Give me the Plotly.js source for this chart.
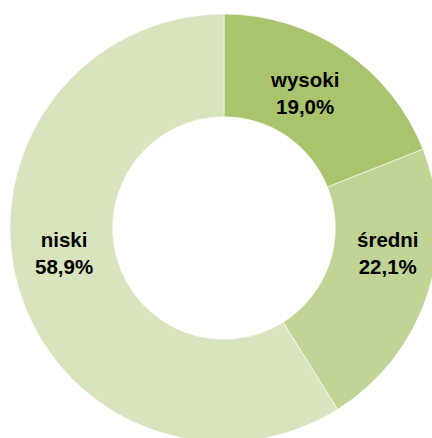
<!DOCTYPE html>
<html>
<head>
<meta charset="utf-8">
<script src="https://cdn.plot.ly/plotly-3.0.1.min.js"></script>
<style>
html,body{margin:0;padding:0;overflow:hidden;background:#fff;width:432px;height:438px;}
#chart{width:448px;height:442px;}
</style>
</head>
<body>
<div id="chart"></div>
<script>
const labels = ['wysoki', 'średni', 'niski'];
const values = [19.0, 22.1, 58.9];
const colors = ['#AAC46E', '#BFD495', '#D8E4BD'];

// label anchor positions (pixels in page) — layout only
const labelPx = [[304, 93], [388, 253], [64, 253]];

const W = 448, H = 442, ML = 10, MR = 10, MT = 14, MB = 0;
const pw = W - ML - MR, ph = H - MT - MB;

const annotations = labels.map((lab, i) => ({
  text: '<b>' + lab + '</b><br><b>' + values[i].toFixed(1).replace('.', ',') + '%</b>',
  xref: 'paper', yref: 'paper',
  x: (labelPx[i][0] - ML) / pw,
  y: 1 - (labelPx[i][1] - MT) / ph,
  xanchor: 'center', yanchor: 'middle',
  showarrow: false,
  align: 'center',
  font: {family: 'Liberation Sans, Arial, sans-serif', size: 20.5, color: '#000'}
}));

Plotly.newPlot('chart', [{
  type: 'pie',
  labels: labels,
  values: values,
  hole: 0.52,
  sort: false,
  direction: 'clockwise',
  rotation: 0,
  marker: {colors: colors, line: {color: 'rgba(255,255,255,0.6)', width: 1}},
  textinfo: 'none',
  hoverinfo: 'none'
}], {
  width: W,
  height: H,
  margin: {l: ML, r: MR, t: MT, b: MB},
  showlegend: false,
  separators: ',.',
  paper_bgcolor: '#fff',
  annotations: annotations
}, {displayModeBar: false, staticPlot: true});
</script>
</body>
</html>
